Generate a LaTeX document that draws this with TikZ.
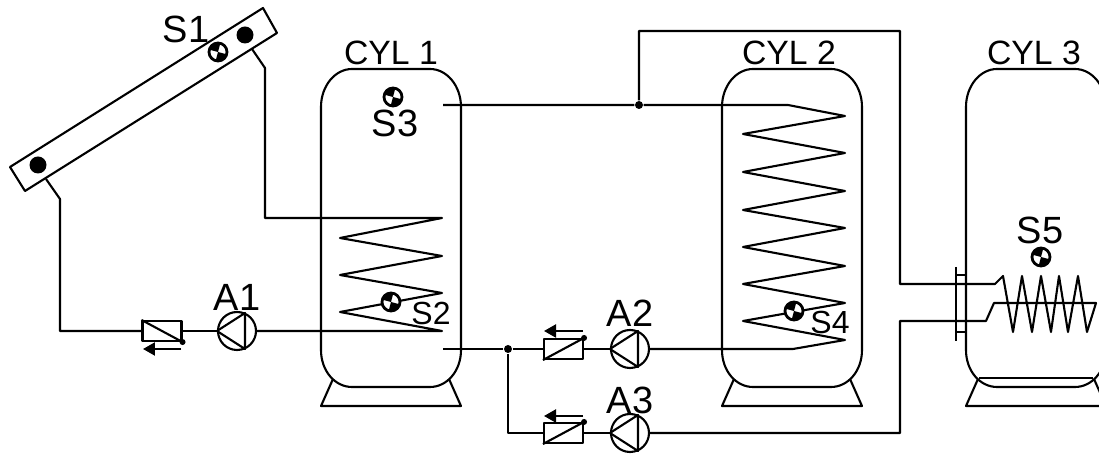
\documentclass[tikz,border=0pt]{standalone}
\usepackage{fontspec}
\setmainfont{Liberation Sans}
\usetikzlibrary{arrows.meta,calc}

\tikzset{
    pipe/.style={line width=0.6pt,line join=round},
    lbl/.style={inner sep=0pt,font=\fontsize{10.8pt}{12pt}\selectfont},
    lblcyl/.style={inner sep=0pt,font=\fontsize{9.6pt}{11pt}\selectfont},
    lblsmall/.style={inner sep=0pt,font=\fontsize{9.1pt}{10pt}\selectfont},
    pump/.style={draw,pipe,circle,minimum size=0.38cm,inner sep=0pt},
    valve/.style={draw,pipe,rectangle,minimum width=0.39cm,minimum height=0.2cm,inner sep=0pt},
    dot/.style={circle,fill=black,minimum size=0.17cm,inner sep=0pt},
    junction/.style={circle,fill=black,minimum size=0.08cm,inner sep=0pt},
    sensor/.pic={
        \draw [line width=0.8pt,fill=white] (0,0) circle (0.09);
        \fill (0,0) -- (15:0.09) arc (15:105:0.09) -- cycle;
        \fill (0,0) -- (195:0.09) arc (195:285:0.09) -- cycle;
    },
    vessel/.pic={
        \draw [pipe] (0,3.5) -- (0,1.07) .. controls (0,0.86) and (0.14,0.69) .. (0.31,0.69)
            -- (1.09,0.69) .. controls (1.26,0.69) and (1.40,0.86) .. (1.40,1.07)
            -- (1.40,3.5) .. controls (1.40,3.71) and (1.26,3.87) .. (1.09,3.87)
            -- (0.31,3.87) .. controls (0.14,3.87) and (0,3.71) .. (0,3.5);
        \draw [pipe] (0.12,3.79) -- (0,4.06) -- (1.40,4.06) -- (1.28,3.79); % Stand
    }
}

\begin{document}
\begin{tikzpicture}[x=1cm,y=-1cm]
    \clip (0,0) rectangle (10.99,4.54);

    % Cylinders
    \foreach \xpos in {3.21,7.22,9.66}
        \pic at (\xpos,0) {vessel};
    \draw [pipe] (9.79,3.78) -- (10.93,3.78);

    % Collector
    \draw [pipe] (2.63,0.08) -- (2.77,0.33) -- (0.25,1.91) -- (0.10,1.67) -- cycle;
    \node [dot] (dotA) at (2.45,0.35) {};
    \node [dot] (dotB) at (0.38,1.65) {};
    \pic at (2.18,0.52) {sensor};

    % Pumps and valves
    \node [pump] (pumpA1) at (2.37,3.31) {};
    \node [pump] (pumpA2) at (6.30,3.49) {};
    \node [pump] (pumpA3) at (6.30,4.33) {};
    \node [valve] (valveA1) at (1.62,3.31) {};
    \node [valve] (valveA2) at (5.635,3.49) {};
    \node [valve] (valveA3) at (5.635,4.33) {};
    \foreach \name in {A1,A2,A3} {
        \draw [pipe] (pump\name.west) -- ($(pump\name)+(0.08,-0.18)$) -- ($(pump\name)+(0.08,0.18)$) -- cycle;
    }
    \draw [pipe] (valveA1.north west) -- (valveA1.south east);
    \fill (valveA1.south east) circle (0.03);
    \draw [pipe,-{Triangle[length=0.12cm,width=0.13cm]}] (1.81,3.49) -- (1.43,3.49);
    \foreach \name/\ypos in {A2/3.31,A3/4.16} {
        \draw [pipe] (valve\name.south west) -- (valve\name.north east);
        \fill (valve\name.north east) circle (0.03);
        \draw [pipe,-{Triangle[length=0.12cm,width=0.13cm]}] (5.83,\ypos) -- (5.44,\ypos);
    }

    % Junctions
    \node [junction] (juncTop) at (6.39,1.05) {};
    \node [junction] (juncLow) at (5.08,3.49) {};

    % Solar circuit
    \draw [pipe] (2.52,0.49) -- (2.65,0.68) -- (2.65,2.18) -- (4.42,2.18)
        -- (3.40,2.38) -- (4.42,2.56) -- (3.40,2.75) -- (4.42,2.93) -- (3.40,3.12) -- (4.42,3.31)
        -- (pumpA1.east);
    \draw [pipe] (pumpA1.west) -- (valveA1.east);
    \draw [pipe] (valveA1.west) -- (0.60,3.31) -- (0.60,1.99) -- (0.46,1.79);

    % Cylinder 2 circuit
    \draw [pipe] (4.43,1.05) -- (juncTop) -- (7.88,1.05)
        -- (8.45,1.16) -- (7.43,1.34) -- (8.45,1.53) -- (7.43,1.72) -- (8.45,1.91)
        -- (7.43,2.10) -- (8.45,2.28) -- (7.43,2.47) -- (8.45,2.66) -- (7.43,2.84)
        -- (8.45,3.03) -- (7.43,3.21) -- (8.45,3.40) -- (7.93,3.49) -- (pumpA2.east);
    \draw [pipe] (pumpA2.west) -- (valveA2.east);
    \draw [pipe] (valveA2.west) -- (juncLow) -- (4.43,3.49);

    % Cylinder 3 circuit
    \draw [pipe] (juncTop) -- (6.39,0.31) -- (9.00,0.31) -- (9.00,2.84) -- (9.95,2.84) -- (10.03,2.76)
        -- (10.13,3.32) -- (10.22,2.76) -- (10.32,3.32) -- (10.41,2.76) -- (10.51,3.32)
        -- (10.59,2.76) -- (10.68,3.32) -- (10.78,2.76) -- (10.87,3.32) -- (10.96,3.03)
        -- (9.94,3.03) -- (9.86,3.21) -- (9.00,3.21) -- (9.00,4.33) -- (pumpA3.east);
    \draw [pipe] (pumpA3.west) -- (valveA3.east);
    \draw [pipe] (valveA3.west) -- (5.08,4.33) -- (juncLow);

    % Flange
    \draw [pipe] (9.56,2.67) -- (9.56,3.41);
    \draw [pipe] (9.56,2.75) -- (9.66,2.75);
    \draw [pipe] (9.56,3.32) -- (9.66,3.32);

    % Sensors
    \pic at (3.93,0.97) {sensor};
    \pic at (3.91,3.02) {sensor};
    \pic at (7.94,3.11) {sensor};
    \pic at (10.41,2.57) {sensor};

    % Labels
    \node [lbl] (lblS1) at (1.86,0.29) {S1};
    \node [lbl] (lblS3) at (3.95,1.23) {S3};
    \node [lblsmall] (lblS2) at (4.31,3.13) {S2};
    \node [lblsmall] (lblS4) at (8.30,3.22) {S4};
    \node [lbl] (lblS5) at (10.40,2.30) {S5};
    \node [lbl] (lblA1) at (2.37,2.97) {A1};
    \node [lbl] (lblA2) at (6.30,3.13) {A2};
    \node [lbl] (lblA3) at (6.30,4.00) {A3};
    \node [lblcyl] (lblCylA) at (3.91,0.53) {CYL 1};
    \node [lblcyl] (lblCylB) at (7.89,0.53) {CYL 2};
    \node [lblcyl] (lblCylC) at (10.34,0.53) {CYL 3};
\end{tikzpicture}
\end{document}
